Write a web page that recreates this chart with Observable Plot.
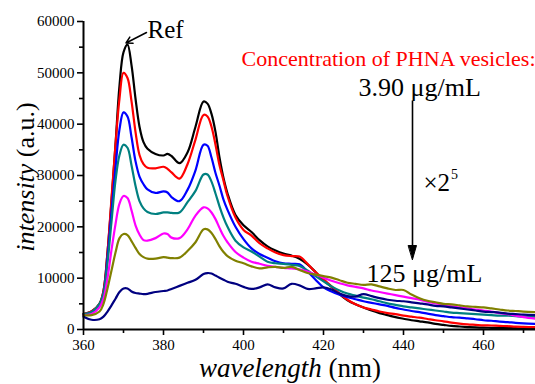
<!DOCTYPE html>
<html>
<head>
<meta charset="utf-8">
<script src="https://cdn.jsdelivr.net/npm/d3@7"></script>
<script src="https://cdn.jsdelivr.net/npm/@observablehq/plot@0.6"></script>
<style>
  html, body { margin: 0; padding: 0; background: #fff; }
  #chart { width: 535px; height: 384px; }
  #chart svg, #chart svg text { font-family: "Liberation Serif", "Times New Roman", serif; }
</style>
</head>
<body>
<div id="chart"></div>
<script>
// wavelength grid (nm)
const wl = [360,362,364,365,366,367,368,369,370,371,
  372,373,374,375,376,378,380,381,382,384,
  386,388,390,391,392,393,394,395,396,398,
  400,402,404,406,408,410,412,414,416,418,
  420,422,424,426,428,430,432,434,436,438,
  440,442,444,446,448,450,452,454,456,458,
  460,462,464,466,468,470,473];

const ref = [3000,3500,5000,7500,15000,25000,36000,47500,54000,55500,
  51500,45000,39500,36500,35200,34200,33900,34200,33800,32400,
  34500,39500,44400,44000,42000,38500,33500,29500,26500,22300,
  20300,19000,17400,16200,15400,14800,14400,13800,12700,11200,
  9600,8300,6900,5700,4900,4300,3700,3200,2800,2400,
  2100,1800,1600,1400,1100,900,700,580,480,400,
  350,330,300,280,250,200,150];

const c1 = [3000,3500,5000,7500,15000,25500,36000,45000,50000,49000,
  44500,38500,34000,32200,31500,31400,31700,31300,30600,29400,
  32200,37000,41800,41500,39500,36000,32000,29000,26000,21800,
  19400,18300,16800,15800,15000,14500,14300,14200,12800,11200,
  9800,8400,7000,5800,4900,4300,3900,3500,3200,3000,
  2700,2500,2300,2050,1800,1600,1350,1150,1000,900,
  800,780,700,650,550,500,450];

const c2 = [2900,3300,4800,7000,14000,23000,31500,39000,42300,41500,
  37500,32800,29800,28300,27300,26600,26900,26700,25800,25000,
  27200,31000,36000,35800,33500,30500,28000,25300,23300,20000,
  17600,15800,14700,14000,13300,12900,12800,12700,11300,9700,
  8200,7400,6800,6300,5900,5500,5200,4900,4600,4200,
  3900,3600,3400,3100,2800,2600,2400,2300,2150,2000,
  1800,1700,1550,1450,1300,1200,1100];

const c3 = [3000,3400,5000,7000,13000,21000,29000,34000,36000,35400,
  32000,28000,25000,23600,22900,22500,22800,22800,22700,22800,
  24800,27000,30200,30200,28800,26500,24000,21800,20000,17300,
  16000,15200,14200,13200,12900,12800,12600,12400,11500,10400,
  9400,8400,7600,7000,6600,6200,5900,5500,5100,4800,
  4500,4300,4100,3900,3700,3500,3300,3200,3100,3000,
  2900,2800,2700,2700,2600,2500,2500];

const c4 = [2800,3000,4300,6000,10000,15500,20500,24500,26000,25600,
  23200,20300,18500,17400,17300,17800,18700,18600,17900,17800,
  19500,22200,23800,23600,22800,21500,19800,18200,17000,15100,
  14000,13200,12800,12400,12200,12000,11900,11700,11300,10700,
  10100,9500,9000,8600,8300,8000,7600,7300,7000,6700,
  6400,6100,5800,5400,5100,4800,4500,4300,4100,3900,
  3700,3500,3200,3000,2700,2400,2100];

const c5 = [2800,2800,3500,5000,8000,11500,15000,17800,18600,18400,
  17200,15900,14700,14100,13800,13800,14100,14000,13900,14000,
  15300,17000,19500,19500,18800,17600,16200,15100,14300,13400,
  12900,12300,11900,12100,12200,12000,12200,11600,11000,10700,
  10400,10100,9600,9100,8900,8700,8800,8400,8000,7700,
  7700,6800,6100,5600,5300,5000,4900,4700,4500,4400,
  4300,4100,3900,3700,3600,3500,3400];

const c6 = [2500,1900,2000,2500,3500,4700,6000,7300,8000,8000,
  7400,7100,7000,6900,6950,7300,7500,7600,7900,8500,
  9100,9700,10800,11000,10900,10500,10100,9700,9300,8900,
  8300,7900,8200,8800,8200,8000,8900,8600,7900,8000,
  8200,7800,7000,6500,6400,6900,6500,6100,5800,5600,
  5500,5300,5100,4900,4600,4500,4300,4100,3900,3700,
  3500,3400,3300,3100,3000,2900,2800];

const seriesNames = ["Ref","c1","c2","c3","c4","c5","c6"];
const seriesValues = [ref, c1, c2, c3, c4, c5, c6];
const seriesColors = ["#000000","#ff0000","#0000ff","#008080","#ff00ff","#808000","#000080"];

const xTicks = [360,380,400,420,440,460];
const xMinor = [370,390,410,430,450,470];
const yTicks = [0,10000,20000,30000,40000,50000,60000];
const yMinor = [5000,15000,25000,35000,45000,55000];

const rows = seriesNames.flatMap((s, k) => wl.map((w, i) => ({s, wl: w, v: seriesValues[k][i]})));

const H = 384, MT = 21, MB = 55;
const inner = H - MT - MB;
const vAt = py => (H - MB - py) * 60000 / inner;   // pixel row -> intensity (annotation placement)
const nmAt = px => 360 + (px - 83) * 113 / 452;    // pixel column -> wavelength

const fam = "Liberation Serif";

const headShape = {
  draw(context, l) {
    context.moveTo(0, -l);
    context.lineTo(-4, 0);
    context.lineTo(4, 0);
    context.closePath();
  }
};

const svg = Plot.plot({
  width: 535,
  height: H,
  marginLeft: 83,
  marginRight: 0,
  marginTop: MT,
  marginBottom: MB,
  style: {fontFamily: fam, fontSize: "14px", color: "#000", background: "#fff"},
  x: {domain: [360, 473]},
  y: {domain: [0, 60000]},
  color: {domain: seriesNames, range: seriesColors},
  marks: [
    Plot.line(rows, {x: "wl", y: "v", z: "s", stroke: "s", curve: "catmull-rom", strokeWidth: 2.2}),
    Plot.axisX({ticks: xTicks, tickSize: 6, tickPadding: 4, strokeWidth: 1.6, tickFormat: d => String(d), label: null, fontSize: 15, fontFamily: fam}),
    Plot.axisX({ticks: xMinor, tickSize: 4, strokeWidth: 1.6, tickFormat: () => "", label: null}),
    Plot.axisY({ticks: yTicks, tickSize: 6, tickPadding: 3, strokeWidth: 1.6, tickFormat: d => String(d), label: null, fontSize: 15, fontFamily: fam}),
    Plot.axisY({ticks: yMinor, tickSize: 4, strokeWidth: 1.6, tickFormat: () => "", label: null}),
    Plot.ruleX([360], {strokeWidth: 2}),
    Plot.ruleY([0], {strokeWidth: 2}),
    // Ref label and pointer
    Plot.text([{t: "Ref"}], {x: () => nmAt(147), y: () => vAt(37), text: "t", textAnchor: "start", lineAnchor: "bottom", fontSize: 25, fontFamily: fam}),
    Plot.arrow([{}], {x1: () => nmAt(146), y1: () => vAt(32), x2: () => nmAt(125.5), y2: () => vAt(42.5), headLength: 7, strokeWidth: 1.5}),
    // annotations
    Plot.text([{t: "Concentration of PHNA vesicles:"}], {x: () => 473, y: () => vAt(65), text: "t", textAnchor: "end", lineAnchor: "bottom", fill: "#ff0000", fontSize: 22, fontFamily: fam}),
    Plot.text([{t: "3.90 \u03BCg/mL"}], {x: () => nmAt(358), y: () => vAt(95), text: "t", textAnchor: "start", lineAnchor: "bottom", fontSize: 26, fontFamily: fam}),
    Plot.text([{t: "125 \u03BCg/mL"}], {x: () => nmAt(366), y: () => vAt(281), text: "t", textAnchor: "start", lineAnchor: "bottom", fontSize: 26, fontFamily: fam}),
    Plot.text([{t: "\u00D72"}], {x: () => nmAt(423), y: () => vAt(190), text: "t", textAnchor: "start", lineAnchor: "bottom", fontSize: 25, fontFamily: fam}),
    Plot.text([{t: "5"}], {x: () => nmAt(450.5), y: () => vAt(178), text: "t", textAnchor: "start", lineAnchor: "bottom", fontSize: 14, fontFamily: fam}),
    Plot.link([{}], {x1: () => nmAt(412), y1: () => vAt(100), x2: () => nmAt(412), y2: () => vAt(248), strokeWidth: 1.6}),
    Plot.vector([{}], {x: () => nmAt(412), y: () => vAt(259), length: 14, rotate: 180, anchor: "end", shape: headShape, fill: "#000", stroke: "#000", strokeWidth: 1})
  ]
});

// axis titles with mixed italic/roman runs
const s = d3.select(svg);
const yl = s.append("text")
  .attr("transform", "translate(34,177) rotate(-90)")
  .attr("text-anchor", "middle")
  .attr("font-family", fam)
  .attr("font-size", 26)
  .attr("fill", "#000");
yl.append("tspan").attr("font-style", "italic").text("intensity");
yl.append("tspan").text(" (a.u.)");

const xl = s.append("text")
  .attr("x", 290)
  .attr("y", 377)
  .attr("text-anchor", "middle")
  .attr("font-family", fam)
  .attr("font-size", 27)
  .attr("fill", "#000");
xl.append("tspan").attr("font-style", "italic").text("wavelength");
xl.append("tspan").text(" (nm)");

document.getElementById("chart").appendChild(svg);
</script>
</body>
</html>
